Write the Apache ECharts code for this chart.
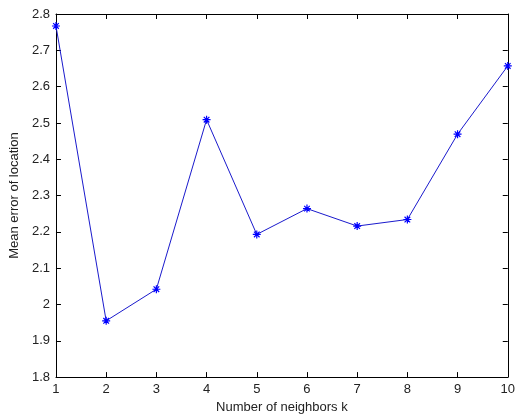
<!DOCTYPE html>
<html>
<head>
<meta charset="utf-8">
<script src="https://cdn.jsdelivr.net/npm/echarts@6/dist/echarts.min.js"></script>
<style>
html,body{margin:0;padding:0;background:#fff;}
#chart{width:518px;height:419px;}
</style>
</head>
<body>
<div id="chart"></div>
<script>
var kValues = [1, 2, 3, 4, 5, 6, 7, 8, 9, 10];
var meanError = [2.767, 1.955, 2.042, 2.509, 2.193, 2.264, 2.216, 2.234, 2.469, 2.657];
var xLabel = 'Number of neighbors k';
var yLabel = 'Mean error of location';

var seriesData = kValues.map(function (k, i) { return [k, meanError[i]]; });
var font = 'Liberation Sans, Arial, sans-serif';
var axisCol = '#000';
var txtCol = '#222';

var chart = echarts.init(document.getElementById('chart'), null, {renderer: 'canvas'});
var baseAxis = {
  axisLine: {show: true, onZero: false, lineStyle: {color: axisCol, width: 1}},
  axisTick: {show: true, inside: true, length: 5, lineStyle: {color: axisCol, width: 1}},
  splitLine: {show: false}
};
chart.setOption({
  animation: false,
  backgroundColor: '#fff',
  grid: {left: 53, right: 5, top: 14, bottom: 41, containLabel: false},
  xAxis: [
    Object.assign({}, baseAxis, {
      type: 'value', min: 1, max: 10, interval: 1, position: 'bottom',
      name: xLabel, nameLocation: 'middle', nameGap: 23,
      nameTextStyle: {fontFamily: font, fontSize: 13, color: txtCol},
      axisLabel: {fontFamily: font, fontSize: 13, color: txtCol, margin: 6}
    }),
    Object.assign({}, baseAxis, {
      type: 'value', min: 1, max: 10, interval: 1, position: 'top',
      axisLabel: {show: false}
    })
  ],
  yAxis: [
    Object.assign({}, baseAxis, {
      type: 'value', min: 1.8, max: 2.8, interval: 0.1, position: 'left',
      name: yLabel, nameLocation: 'middle', nameGap: 33,
      nameTextStyle: {fontFamily: font, fontSize: 13, color: txtCol},
      axisLabel: {fontFamily: font, fontSize: 13, color: txtCol, margin: 6,
        formatter: function (v) { return String(Math.round(v * 10) / 10); }}
    }),
    Object.assign({}, baseAxis, {
      type: 'value', min: 1.8, max: 2.8, interval: 0.1, position: 'right',
      axisLabel: {show: false}
    })
  ],
  series: [{
    type: 'line',
    data: seriesData,
    xAxisIndex: 0, yAxisIndex: 0,
    lineStyle: {color: '#1a1acc', width: 1},
    symbol: 'path://M0,5L10,5M5,0L5,10M1.5,1.5L8.5,8.5M8.5,1.5L1.5,8.5',
    symbolSize: 8,
    showAllSymbol: true,
    itemStyle: {color: '#0000ff', borderColor: '#0000ff', borderWidth: 1.2},
    emphasis: {disabled: true}
  }]
});
</script>
</body>
</html>
